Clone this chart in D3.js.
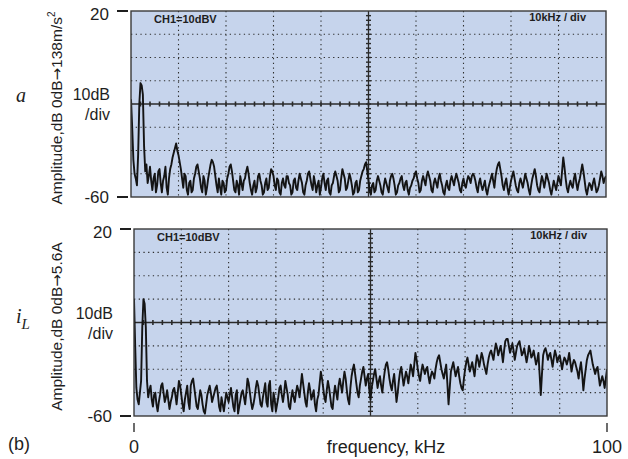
<!DOCTYPE html>
<html>
<head>
<meta charset="utf-8">
<script src="https://cdn.jsdelivr.net/npm/d3@7"></script>
<style>
  html, body { margin: 0; padding: 0; background: #fff; }
  svg { display: block; }
</style>
</head>
<body>
<svg id="chart" width="628" height="459"></svg>
<script>
// Spectrum samples, 0.25 kHz apart from 0 to 100 kHz (dB); 20 samples per row = 5 kHz
const freqStep = 0.25;
const accelSpectrum = [
  -18,-30,-44,-50,-52,-55,-42,-20,-11,-12,-16,-38,-49,-46,-54,-51,-47,-53,-57,-52,
  -50,-58,-55,-49,-48,-54,-58,-53,-51,-47,-56,-59,-52,-48,-46,-43,-41,-39,-37,-40,
  -42,-45,-48,-52,-56,-50,-51,-57,-59,-54,-53,-58,-57,-52,-50,-47,-46,-49,-52,-56,
  -58,-51,-53,-59,-56,-52,-49,-46,-44,-45,-47,-51,-55,-58,-52,-56,-59,-53,-54,-58,
  -57,-52,-50,-47,-46,-49,-53,-57,-58,-53,-55,-59,-51,-54,-57,-53,-52,-49,-47,-50,
  -54,-57,-59,-55,-53,-58,-56,-51,-50,-53,-55,-59,-58,-54,-52,-57,-56,-51,-48,-49,
  -51,-55,-57,-52,-53,-58,-59,-54,-52,-55,-56,-51,-51,-54,-55,-59,-58,-53,-52,-56,
  -57,-53,-50,-52,-54,-58,-59,-55,-53,-50,-49,-52,-55,-57,-51,-54,-58,-55,-53,-59,
  -56,-52,-50,-54,-57,-53,-52,-58,-59,-55,-54,-51,-49,-51,-53,-58,-57,-52,-48,-50,
  -52,-57,-56,-53,-50,-52,-55,-59,-58,-54,-53,-58,-57,-53,-51,-49,-48,-46,-45,-49,
  -53,-57,-59,-55,-54,-58,-57,-53,-51,-53,-55,-58,-59,-55,-52,-54,-56,-58,-53,-51,
  -50,-52,-55,-59,-58,-55,-54,-52,-51,-55,-57,-54,-53,-57,-59,-56,-55,-53,-52,-50,
  -49,-52,-54,-58,-57,-53,-51,-53,-55,-51,-49,-51,-53,-57,-58,-54,-52,-54,-56,-52,
  -50,-53,-55,-58,-59,-55,-53,-56,-57,-53,-51,-53,-55,-52,-50,-52,-54,-57,-58,-54,
  -52,-55,-56,-53,-51,-52,-54,-51,-50,-51,-53,-56,-58,-54,-52,-55,-57,-55,-53,-57,
  -59,-56,-54,-52,-50,-53,-56,-51,-48,-46,-45,-48,-51,-55,-57,-54,-52,-56,-59,-56,
  -53,-51,-49,-52,-55,-57,-58,-54,-52,-54,-56,-53,-50,-52,-54,-57,-59,-55,-52,-50,
  -48,-51,-55,-57,-58,-54,-51,-53,-56,-53,-50,-52,-54,-57,-59,-56,-53,-55,-57,-54,
  -51,-53,-55,-49,-43,-47,-52,-56,-58,-55,-53,-55,-56,-52,-50,-54,-57,-54,-52,-49,
  -46,-49,-53,-57,-59,-56,-54,-55,-57,-54,-52,-55,-58,-57,-55,-52,-49,-51,-54,-52,
  -51
];
const currentSpectrum = [
  -10,-30,-48,-53,-55,-50,-45,-22,-10,-12,-22,-45,-52,-49,-47,-53,-56,-51,-50,-55,
  -58,-54,-51,-47,-46,-50,-54,-52,-49,-53,-57,-54,-52,-49,-48,-51,-55,-50,-45,-47,
  -51,-55,-58,-53,-50,-47,-54,-57,-47,-45,-44,-48,-52,-56,-57,-53,-49,-51,-55,-58,
  -59,-55,-51,-49,-47,-50,-54,-52,-50,-48,-47,-51,-56,-58,-52,-55,-58,-54,-50,-52,
  -54,-51,-48,-52,-56,-58,-51,-49,-59,-56,-53,-50,-49,-52,-55,-50,-44,-46,-50,-54,
  -57,-55,-52,-48,-45,-47,-51,-55,-56,-52,-49,-46,-54,-56,-47,-45,-55,-58,-50,-53,
  -58,-55,-52,-48,-47,-51,-54,-50,-45,-48,-51,-56,-57,-52,-49,-52,-54,-50,-47,-49,
  -52,-47,-42,-46,-50,-54,-56,-50,-46,-49,-53,-51,-49,-55,-58,-53,-51,-46,-41,-44,
  -48,-52,-54,-49,-45,-48,-52,-56,-57,-51,-47,-50,-53,-47,-44,-47,-50,-45,-41,-44,
  -49,-53,-55,-48,-43,-40,-38,-42,-46,-50,-52,-47,-44,-41,-39,-43,-47,-44,-42,-49,
  -53,-48,-45,-42,-40,-44,-48,-45,-43,-47,-50,-45,-41,-38,-37,-40,-44,-47,-49,-45,
  -42,-48,-54,-50,-45,-41,-39,-43,-47,-44,-41,-43,-46,-42,-38,-40,-43,-38,-33,-36,
  -40,-43,-45,-41,-38,-40,-42,-40,-39,-43,-46,-43,-41,-42,-44,-40,-37,-35,-34,-37,
  -40,-42,-44,-41,-38,-46,-55,-48,-41,-39,-37,-40,-43,-41,-39,-43,-46,-48,-49,-44,
  -40,-37,-35,-38,-41,-39,-37,-40,-43,-38,-34,-36,-39,-36,-33,-35,-38,-40,-42,-38,
  -35,-33,-32,-34,-36,-32,-29,-31,-34,-32,-30,-33,-37,-32,-28,-27,-27,-30,-33,-31,
  -29,-32,-36,-33,-30,-29,-28,-31,-34,-33,-31,-34,-37,-34,-30,-32,-35,-34,-32,-35,
  -38,-36,-33,-42,-51,-42,-34,-32,-31,-33,-36,-34,-33,-36,-39,-35,-32,-34,-37,-35,
  -34,-37,-40,-37,-35,-36,-38,-36,-33,-37,-41,-38,-36,-37,-39,-41,-44,-40,-37,-42,
  -49,-44,-40,-36,-34,-33,-32,-35,-38,-40,-42,-40,-39,-43,-47,-45,-43,-45,-48,-44,
  -40
];

// Axis ticks and annotations
const dbTicks = [20, -60];
const freqTickLabels = [0, 100];
const dbDomain = [-60, 20];
const freqDomain = [0, 100];

const panels = [
  { data: accelSpectrum, top: 11, bottom: 197, left: 131, right: 606,
    quantity: "a", sub: null, symY: 102,
    titleA: "Amplitude,dB 0dB", titleB: "138m/s", sup: "2" },
  { data: currentSpectrum, top: 229, bottom: 416, left: 134, right: 607,
    quantity: "i", sub: "L", symY: 323,
    titleA: "Amplitude,dB 0dB", titleB: "5.6A", sup: null }
];

const svg = d3.select("#chart");
const ink = "#1e1e1e";
const sans = "Liberation Sans, Arial, sans-serif";

panels.forEach(p => {
  const x = d3.scaleLinear().domain(freqDomain).range([p.left, p.right]);
  const y = d3.scaleLinear().domain(dbDomain).range([p.bottom, p.top]);
  const g = svg.append("g");

  // screen background
  g.append("rect")
    .attr("x", p.left).attr("y", p.top)
    .attr("width", p.right - p.left).attr("height", p.bottom - p.top)
    .attr("fill", "#c6d4ec");

  // dotted graticule
  const vLines = d3.range(10, 100, 10).filter(v => v !== 50);
  const hLines = d3.range(-50, 20, 10).filter(v => v !== -20);
  g.selectAll(".gv").data(vLines).join("line")
    .attr("x1", d => x(d)).attr("x2", d => x(d))
    .attr("y1", p.top).attr("y2", p.bottom)
    .attr("stroke", "#2e2e2e").attr("stroke-width", 1.1)
    .attr("stroke-dasharray", "1.3,3.4");
  g.selectAll(".gh").data(hLines).join("line")
    .attr("x1", p.left).attr("x2", p.right)
    .attr("y1", d => y(d)).attr("y2", d => y(d))
    .attr("stroke", "#2e2e2e").attr("stroke-width", 1.1)
    .attr("stroke-dasharray", "1.3,3.4");

  // centre cross with minor ticks
  g.append("line")
    .attr("x1", p.left).attr("x2", p.right)
    .attr("y1", y(-20)).attr("y2", y(-20))
    .attr("stroke", "#2a2a2a").attr("stroke-width", 1.3);
  g.append("line")
    .attr("x1", x(50)).attr("x2", x(50))
    .attr("y1", p.top).attr("y2", p.bottom)
    .attr("stroke", "#2a2a2a").attr("stroke-width", 1.3);
  g.selectAll(".mh").data(d3.range(2, 100, 2)).join("line")
    .attr("x1", d => x(d)).attr("x2", d => x(d))
    .attr("y1", y(-20) - 2.5).attr("y2", y(-20) + 2.5)
    .attr("stroke", "#2a2a2a").attr("stroke-width", 1.6);
  g.selectAll(".mv").data(d3.range(-58, 20, 2)).join("line")
    .attr("x1", x(50) - 2.5).attr("x2", x(50) + 2.5)
    .attr("y1", d => y(d)).attr("y2", d => y(d))
    .attr("stroke", "#2a2a2a").attr("stroke-width", 1.4);

  // spectrum trace
  const line = d3.line()
    .x((d, i) => x(i * freqStep))
    .y(d => y(d));
  const clipId = "clip" + p.top;
  g.append("clipPath").attr("id", clipId).append("rect")
    .attr("x", p.left).attr("y", p.top)
    .attr("width", p.right - p.left).attr("height", p.bottom - p.top);
  g.append("path").datum(p.data)
    .attr("clip-path", `url(#${clipId})`)
    .attr("d", line)
    .attr("fill", "none").attr("stroke", "#141414")
    .attr("stroke-width", 1.9).attr("stroke-linejoin", "round");

  // frame
  g.append("rect")
    .attr("x", p.left).attr("y", p.top)
    .attr("width", p.right - p.left).attr("height", p.bottom - p.top)
    .attr("fill", "none").attr("stroke", "#3a3a3a").attr("stroke-width", 1.4);

  // on-screen annotations
  g.append("text").attr("x", p.left + 23).attr("y", p.top + 12)
    .attr("font-family", sans)
    .attr("font-size", 11).attr("font-weight", "bold").attr("fill", ink)
    .text("CH1=10dBV");
  g.append("text").attr("x", p.right - 20).attr("y", p.top + 10)
    .attr("text-anchor", "end")
    .attr("font-family", sans)
    .attr("font-size", 11).attr("font-weight", "bold").attr("fill", ink)
    .text("10kHz / div");

  // dB scale ticks on the left
  g.selectAll(".yt").data(dbTicks).join("line")
    .attr("x1", p.left - 14).attr("x2", p.left - 3)
    .attr("y1", d => y(d)).attr("y2", d => y(d))
    .attr("stroke", ink).attr("stroke-width", 2);
  g.selectAll(".yl").data(dbTicks).join("text")
    .attr("x", p.left - 22).attr("y", d => y(d) + (d > 0 ? 9 : 6))
    .attr("text-anchor", "end")
    .attr("font-family", sans)
    .attr("font-size", 17).attr("fill", ink)
    .text(d => d);

  // scale note
  const yMid = (p.top + p.bottom) / 2;
  const noteX = p.left - 21;
  g.append("text").attr("x", noteX).attr("y", yMid - 4)
    .attr("text-anchor", "end")
    .attr("font-family", sans)
    .attr("font-size", 16).attr("fill", ink).text("10dB");
  g.append("text").attr("x", noteX).attr("y", yMid + 16)
    .attr("text-anchor", "end")
    .attr("font-family", sans)
    .attr("font-size", 16).attr("fill", ink).text("/div");

  // quantity symbol
  const sym = g.append("text").attr("x", 16).attr("y", p.symY)
    .attr("font-family", "Liberation Serif, Times New Roman, serif")
    .attr("font-style", "italic").attr("font-size", 20).attr("fill", ink)
    .text(p.quantity);
  if (p.sub) {
    sym.append("tspan").attr("font-size", 15).attr("dy", 6).text(p.sub);
  }

  // rotated axis title
  const title = g.append("text")
    .attr("transform", `translate(62,${yMid + 4}) rotate(-90)`)
    .attr("text-anchor", "middle")
    .attr("font-family", sans)
    .attr("font-size", 15.5).attr("fill", ink);
  title.append("tspan").text(p.titleA);
  title.append("tspan").attr("font-family", "DejaVu Sans, sans-serif")
    .attr("font-size", 15).text("\u2192");
  title.append("tspan").text(p.titleB);
  if (p.sup) {
    title.append("tspan").attr("font-size", 10).attr("dy", -7).text(p.sup);
  }
});

// frequency axis labels under the lower panel
const xb = d3.scaleLinear().domain(freqDomain).range([134, 607]);
svg.selectAll(".xt").data(freqTickLabels).join("line")
  .attr("x1", d => xb(d)).attr("x2", d => xb(d))
  .attr("y1", 423).attr("y2", 432)
  .attr("stroke", ink).attr("stroke-width", 1.3);
svg.selectAll(".xl").data(freqTickLabels).join("text")
  .attr("x", d => xb(d)).attr("y", 453)
  .attr("text-anchor", "middle")
  .attr("font-family", sans)
  .attr("font-size", 18).attr("fill", ink)
  .text(d => d);
svg.append("text").attr("x", 386).attr("y", 453)
  .attr("text-anchor", "middle")
  .attr("font-family", sans)
  .attr("font-size", 18).attr("fill", ink)
  .text("frequency, kHz");
svg.append("text").attr("x", 8).attr("y", 450)
  .attr("font-family", sans)
  .attr("font-size", 18).attr("fill", ink)
  .text("(b)");
</script>
</body>
</html>
